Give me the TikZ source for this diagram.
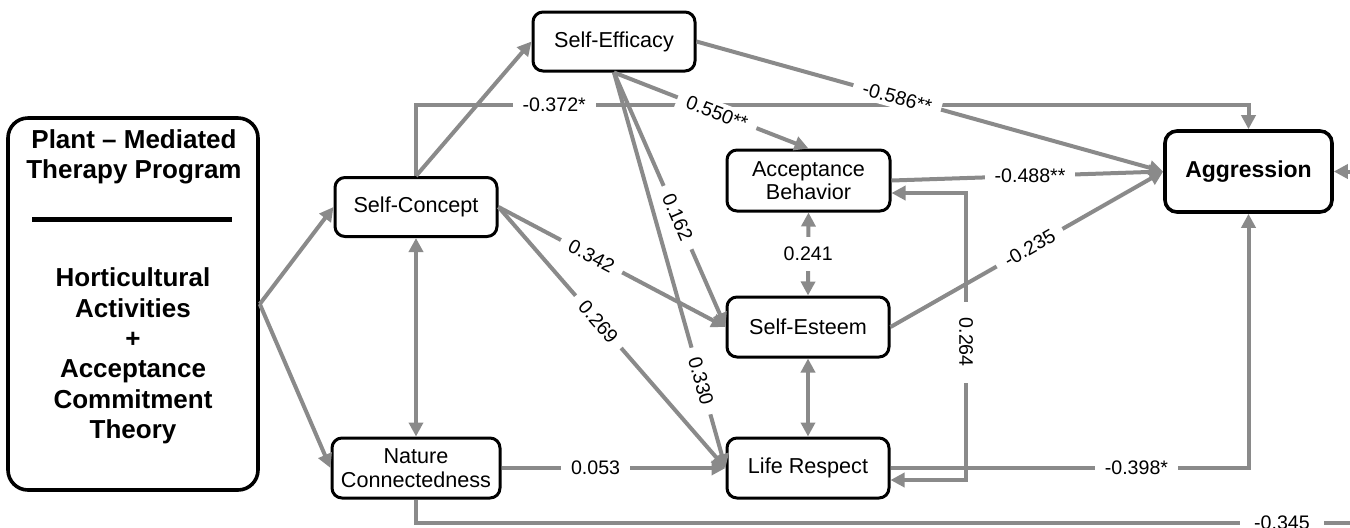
\documentclass[tikz,border=0pt]{standalone}
\usepackage{fontspec}
\setmainfont{Liberation Sans}
\usetikzlibrary{arrows.meta}
\definecolor{lgray}{RGB}{138,138,138}
\begin{document}
\begin{tikzpicture}[x=0.5pt,y=-0.5pt,
  box/.style={draw=black, line width=1.5pt, rounded corners=5pt, fill=white, align=center,
    font=\fontsize{10.8}{11.8}\selectfont, inner sep=0pt, minimum width=81pt, minimum height=30pt},
  tip/.tip={Triangle[length=7pt,width=7pt]},
  conn/.style={draw=lgray, line width=2pt, -tip},
  dconn/.style={draw=lgray, line width=2pt, tip-tip},
  lbl/.style={fill=white, inner xsep=5pt, inner ysep=2pt, font=\fontsize{9.8}{11}\selectfont, text=black}
]
\useasboundingbox (0,0) rectangle (1350,527);

% nodes
\node[draw=black, line width=1.8pt, rounded corners=10pt, minimum width=125pt, minimum height=186pt, inner sep=0pt] (plant) at (133,304) {};
\node[font=\bfseries\fontsize{13}{15}\selectfont, align=center, inner sep=0pt] (ptitle) at (134,157) {Plant \textendash{} Mediated\\Therapy Program};
\draw[line width=2.5pt] (32,219) -- (232,219);
\node[font=\bfseries\fontsize{13}{15.2}\selectfont, align=center, inner sep=0pt] (pbody) at (133,356) {Horticultural\\Activities\\+\\Acceptance\\Commitment\\Theory};

\node[box, minimum height=29.5pt] (se) at (614,41.5) {Self-Efficacy};
\node[box, minimum height=29.5pt] (sc) at (416,207) {Self-Concept};
\node[box, minimum width=84pt] (nat) at (416,468) {Nature\\Connectedness};
\node[box, minimum width=81.5pt, minimum height=30.5pt] (ab) at (808.5,180.5) {Acceptance\\Behavior};
\node[box] (est) at (808,327) {Self-Esteem};
\node[box] (lr) at (808,468) {Life Respect};
\node[box, line width=1.8pt, rounded corners=6pt, minimum width=83.5pt, minimum height=40.5pt,
  font=\bfseries\fontsize{11.5}{13}\selectfont] (agg) at (1248.5,171.5) {Aggression};

% helper coordinates
\coordinate (tc) at (1248.5,105);
\coordinate (r1) at (966,193);
\coordinate (r2) at (966,480);
\coordinate (r3) at (1248.5,468);
\coordinate (off1) at (1375,523);
\coordinate (off2) at (1375,171.5);

% connectors
\draw[conn] (sc.north) -- (sc.north |- tc) -- node[lbl,pos=0.166]{-0.372*} (tc) -- (agg.north);
\draw[conn] (plant.east) -- (sc.west);
\draw[conn] (plant.east) -- (nat.west);
\draw[conn] (sc.north) -- (se.west);
\draw[conn] (se.east) -- node[lbl,sloped,pos=0.43]{-0.586**} (agg.west);
\draw[conn] (se.south) -- node[lbl,sloped,pos=0.53]{0.550**} (ab.north);
\draw[conn] (se.south) -- node[lbl,sloped,pos=0.57]{0.162} (est.west);
\draw[conn] (se.south) -- node[lbl,sloped,pos=0.78]{0.330} (lr.west);
\draw[conn] (sc.east) -- node[lbl,sloped,pos=0.41]{0.342} (est.west);
\draw[conn] (sc.east) -- node[lbl,sloped,pos=0.44]{0.269} (lr.west);
\draw[dconn] (sc.south) -- (nat.north);
\draw[conn] (nat.east) -- node[lbl,pos=0.42]{0.053} (lr.west);
\draw[dconn] (ab.south) -- node[lbl,inner xsep=2pt,inner ysep=5pt]{0.241} (est.north);
\draw[dconn] (est.south) -- (lr.north);
\draw[conn] (ab.east) -- node[lbl,pos=0.51]{-0.488**} (agg.west);
\draw[conn] (est.east) -- node[lbl,sloped,pos=0.51]{-0.235} (agg.west);
\draw[dconn] (ab.east |- r1) -- (r1) -- node[lbl,rotate=-90,pos=0.52,inner xsep=8pt]{0.264} (r2) -- (lr.east |- r2);
\draw[conn] (lr.east) -- node[lbl,pos=0.687]{-0.398*} (r3) -- (agg.south);
\draw[conn] (nat.south) -- (nat.south |- off1) -- node[lbl,pos=0.903,inner xsep=7pt]{-0.345} (off1) -- (off2) -- (agg.east);
\end{tikzpicture}
\end{document}
